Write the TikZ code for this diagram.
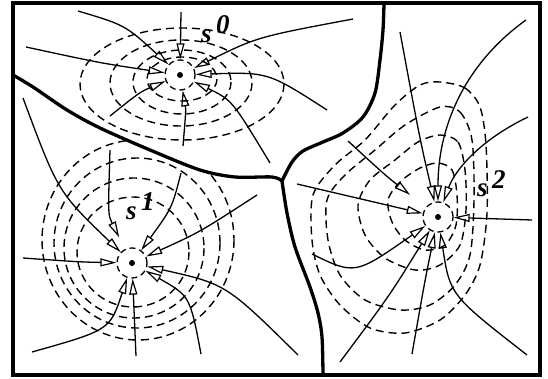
\documentclass[tikz,border=0pt]{standalone}
\usepackage{fontspec}
\setmainfont{Liberation Serif}
\usetikzlibrary{arrows.meta}

\begin{document}
\begin{tikzpicture}[x=1pt,y=-1pt,
        src/.style={circle,draw,dash pattern=on 6pt off 4pt,line width=1.3pt,minimum size=30pt,inner sep=0pt},
        flow/.style={line width=1.3pt,-{Triangle[open,length=16pt,width=8pt,line width=1.2pt]}},
        equi/.style={dash pattern=on 8pt off 5pt,line width=1.4pt},
        wall/.style={line width=3.3pt},
        lbl/.style={font=\fontsize{27}{27}\selectfont\bfseries\itshape,inner sep=0pt,anchor=base west}]
    \useasboundingbox (0,0) rectangle (548,379);
    \draw[line width=4pt] (13,3.3) rectangle (540,374.7);

    % sources
    \node[src] (s0) at (180,75) {};
    \node[src] (s1) at (132,263) {};
    \node[src] (s2) at (438,217) {};
    \foreach \s in {s0,s1,s2} \fill (\s) circle (3);
    \node[lbl] (lab0) at (201,43) {s\,\raisebox{9pt}{0}};
    \node[lbl] (lab1) at (126,219) {s\,\raisebox{9pt}{1}};
    \node[lbl] (lab2) at (477,197) {s\,\raisebox{9pt}{2}};

    % cell walls
    \draw[wall] plot[smooth] coordinates {(13,75) (33,87) (67,110) (100,128) (150,150) (200,170) (235,177) (272,177) (282,181)};
    \draw[wall] plot[smooth] coordinates {(282,181) (292,162) (303,151) (323,142) (343,133) (363,117) (375,93) (380,60) (383,30) (384,4)};
    \draw[wall] plot[smooth] coordinates {(282,181) (287,213) (295,247) (310,287) (318,313) (322,337) (323,374)};

    % equipotentials
    \draw[equi] (182,79) ellipse [x radius=35,y radius=22];
    \draw[equi] (182,82) ellipse [x radius=49,y radius=32];
    \draw[equi] (181,83) ellipse [x radius=71,y radius=43];
    \draw[equi] (182,84) ellipse [x radius=102,y radius=56];
    \begin{scope}
        \clip plot[smooth] coordinates {(13,75) (33,87) (67,110) (100,128) (150,150) (200,170) (235,177) (272,177) (282,181)} -- (282,374) -- (13,374) -- cycle;
        \draw[equi] (138,240) ellipse [x radius=96,y radius=100];
        \draw[equi] (137,243) ellipse [x radius=83,y radius=85];
        \draw[equi] (134,248) ellipse [x radius=70,y radius=70];
        \draw[equi] (133,252) ellipse [x radius=56,y radius=55];
    \end{scope}
    \draw[equi] plot[smooth cycle] coordinates {(440,82) (465,88) (480,107) (486,145) (487,213) (480,265) (465,295) (440,320) (405,333) (370,328) (340,305) (320,275) (312,240) (313,195) (335,165) (365,140) (395,105) (420,85)};
    \draw[equi] plot[smooth cycle] coordinates {(440,107) (460,112) (472,140) (474,200) (470,255) (455,285) (430,305) (400,310) (365,300) (340,275) (328,240) (327,200) (345,175) (375,150) (405,125)};
    \draw[equi] plot[smooth cycle] coordinates {(440,135) (458,142) (465,170) (466,210) (460,245) (440,265) (415,270) (385,258) (365,235) (358,205) (370,180) (395,160) (418,142)};
    \draw[equi] plot[smooth cycle] coordinates {(438,163) (452,170) (457,195) (456,225) (445,245) (425,250) (405,240) (392,222) (388,200) (400,182) (420,168)};

    % free ends of the field lines
    \foreach \n/\x/\y in {a/78/11, b/26/47, c/110/116, d/181/12, e/183/146, f/270/163, g/327/110, h/353/19}
        \coordinate (p0\n) at (\x,\y);
    \foreach \n/\x/\y in {a/23/98, b/110/150, c/181/173, d/257/195, e/23/258, f/32/352, g/136/356, h/201/354, i/298/355}
        \coordinate (p1\n) at (\x,\y);
    \foreach \n/\x/\y in {a/400/32, b/526/20, c/528/117, d/348/141, e/297/184, f/312/254, g/340/362, h/412/354, i/527/355, j/532/220}
        \coordinate (p2\n) at (\x,\y);

    % field lines into s0
    \draw[flow] (p0a) .. controls (125,25) .. (s0);
    \draw[flow] (p0b) .. controls (100,63) .. (s0);
    \draw[flow] (p0c) .. controls (140,92) .. (s0);
    \draw[flow] (p0d) -- (s0);
    \draw[flow] (p0e) .. controls (186,110) .. (s0);
    \draw[flow] (p0f) .. controls (232,100) .. (s0);
    \draw[flow] (p0g) .. controls (268,72) .. (s0);
    \draw[flow] (p0h) .. controls (257,37) .. (s0);
    % field lines into s1
    \draw[flow] (p1a) .. controls (58,192) .. (s1);
    \draw[flow,shorten >=13pt] (p1b) .. controls (108,215) .. (s1);
    \draw[flow] (p1c) .. controls (172,208) .. (s1);
    \draw[flow] (p1d) .. controls (200,232) .. (s1);
    \draw[flow] (p1e) .. controls (80,262) .. (s1);
    \draw[flow] (p1f) .. controls (110,330) .. (s1);
    \draw[flow] (p1g) -- (s1);
    \draw[flow] (p1h) .. controls (190,296) .. (s1);
    \draw[flow] (p1i) .. controls (226,284) .. (s1);
    % field lines into s2
    \draw[flow] (p2a) .. controls (420,140) .. (s2);
    \draw[flow] (p2b) .. controls (470,60) and (438,120) .. (s2);
    \draw[flow] (p2c) .. controls (480,140) and (455,170) .. (s2);
    \draw[flow,shorten >=20pt] (p2d) .. controls (385,175) .. (s2);
    \draw[flow] (p2e) -- (s2);
    \draw[flow] (p2f) .. controls (355,275) .. (s2);
    \draw[flow] (p2g) .. controls (390,295) .. (s2);
    \draw[flow] (p2h) .. controls (425,280) .. (s2);
    \draw[flow] (p2i) .. controls (450,295) .. (s2);
    \draw[flow] (p2j) -- (s2);
\end{tikzpicture}
\end{document}
